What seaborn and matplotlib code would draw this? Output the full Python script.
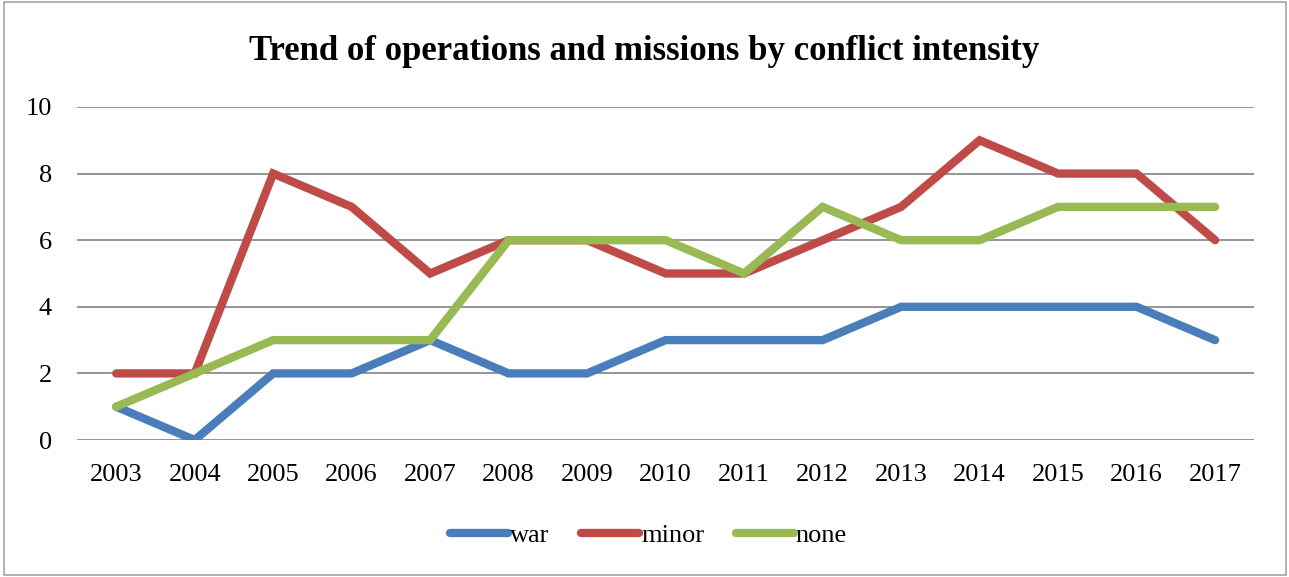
import pandas as pd
import matplotlib.pyplot as plt
import seaborn as sns
from matplotlib.patches import Rectangle

plt.switch_backend('Agg')

years = ['2003', '2004', '2005', '2006', '2007', '2008', '2009', '2010',
         '2011', '2012', '2013', '2014', '2015', '2016', '2017']
war = [1, 0, 2, 2, 3, 2, 2, 3, 3, 3, 4, 4, 4, 4, 3]
minor = [2, 2, 8, 7, 5, 6, 6, 5, 5, 6, 7, 9, 8, 8, 6]
none = [1, 2, 3, 3, 3, 6, 6, 6, 5, 7, 6, 6, 7, 7, 7]
series = ['war', 'minor', 'none']
colors = ['#4A7EBB', '#BE4B48', '#98B954']

df = pd.DataFrame({'Year': years, 'war': war, 'minor': minor, 'none': none})
long_df = df.melt(id_vars='Year', var_name='Series', value_name='Count')

sns.set_style('white')
plt.rcParams['font.family'] = ['Liberation Serif', 'DejaVu Serif']
plt.rcParams['text.color'] = 'black'

fig = plt.figure(figsize=(12.89, 5.77), dpi=100)
ax = fig.add_axes([0.0597, 0.2374, 0.9134, 0.5772])

sns.lineplot(data=long_df, x='Year', y='Count', hue='Series', hue_order=series,
             palette=colors, linewidth=6, ax=ax, sort=False,
             solid_capstyle='round', solid_joinstyle='miter')

ax.set_xlim(-0.5, len(years) - 0.5)
ax.set_ylim(0, 10)
ax.set_yticks(range(0, 11, 2))
ax.grid(axis='y', color='#8C8C8C', linewidth=1.3)
ax.set_axisbelow(True)
for s in ax.spines.values():
    s.set_visible(False)
ax.tick_params(axis='both', length=0, labelsize=19, colors='black')
ax.tick_params(axis='x', pad=17)
ax.tick_params(axis='y', pad=18)
ax.set_xlabel('')
ax.set_ylabel('')

fig.text(0.5, 0.91, 'Trend of operations and missions by conflict intensity',
         ha='center', va='center', fontsize=25, fontweight='bold', color='black')

handles, labels = ax.get_legend_handles_labels()
for h in handles:
    h.set_solid_capstyle('round')
ax.legend_.remove()
fig.legend(handles, labels, loc='center', bbox_to_anchor=(0.503, 0.072), ncol=3,
           frameon=False, fontsize=19, handlelength=2.2, handletextpad=0.08,
           columnspacing=1.2, labelcolor='black')

fig.patches.append(Rectangle((0.003, 0.003), 0.995, 0.994, transform=fig.transFigure,
                             fill=False, edgecolor='#A6A6A6', linewidth=1.2))

fig.savefig('out.png', dpi=100)
